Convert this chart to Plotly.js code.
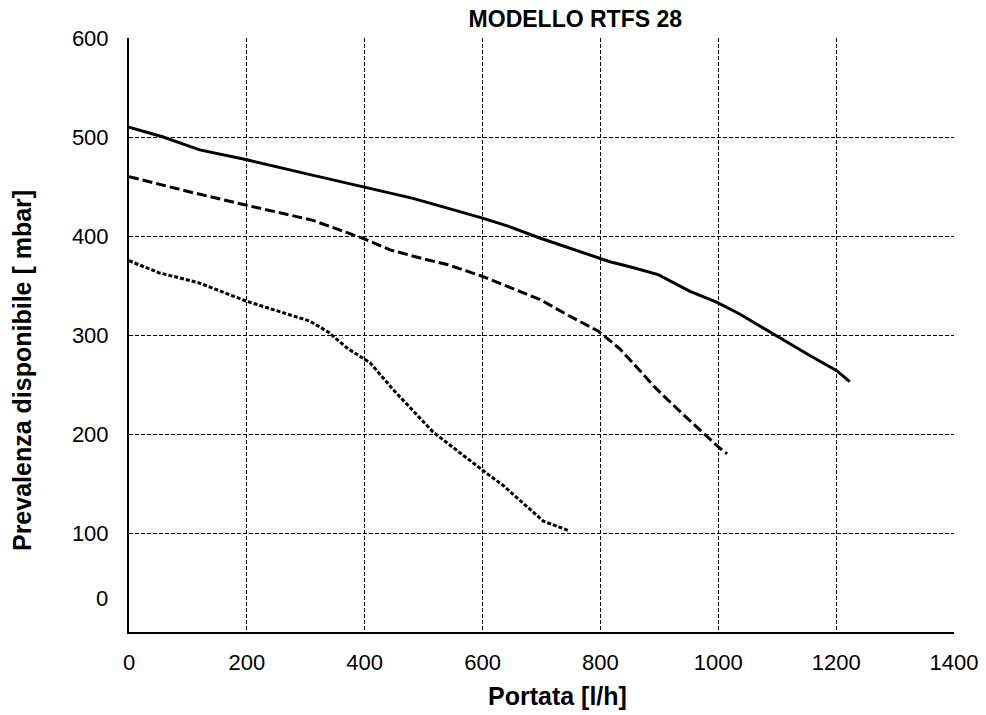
<!DOCTYPE html>
<html>
<head>
<meta charset="utf-8">
<script src="https://cdn.plot.ly/plotly-3.0.1.min.js"></script>
<style>html,body{margin:0;padding:0;background:#fff;}#chart{width:986px;height:715px;}</style>
</head>
<body>
<div id="chart"></div>
<script>
// Curve 1 (solid)
const solidX = [0, 58, 120, 200, 300, 400, 434, 482, 600, 643, 697, 799, 816, 850, 879, 898, 952, 998, 1037, 1099, 1156, 1201, 1223];
const solidY = [510, 500, 487, 477, 463, 449, 444, 438, 418, 410, 398, 377, 374, 369, 364, 361, 344, 333, 321, 299, 279, 264, 253];
// Curve 2 (dashed)
const dashX = [0, 107, 200, 311, 400, 443, 499, 541, 601, 697, 748, 796, 833, 896, 940, 977, 998, 1015];
const dashY = [460, 444, 431, 416, 397, 386, 377, 371, 359, 336, 319, 304, 286, 245, 220, 200, 188, 180];
// Curve 3 (dotted)
const dotX = [0, 50, 117, 200, 307, 338, 372, 409, 448, 516, 601, 635, 703, 748];
const dotY = [375, 363, 353, 334, 314, 303, 286, 272, 245, 202, 163, 148, 112, 102];

const xTicks = [0, 200, 400, 600, 800, 1000, 1200, 1400];
const yTicks = [100, 200, 300, 400, 500, 600];
const yZeroLabel = "0";

const chartTitle = "MODELLO RTFS 28";
const xTitle = "Portata [l/h]";
const yTitle = "Prevalenza disponibile [ mbar]";

const FONT = "Liberation Sans, Arial, Helvetica, sans-serif";

const traces = [
  {x: solidX, y: solidY, mode: 'lines', line: {color: '#000', width: 3, dash: 'solid'}, hoverinfo: 'skip'},
  {x: dashX, y: dashY, mode: 'lines', line: {color: '#000', width: 3, dash: '10px,4px'}, hoverinfo: 'skip'},
  {x: dotX, y: dotY, mode: 'lines', line: {color: '#000', width: 3, dash: '4px,2px'}, hoverinfo: 'skip'}
];

const layout = {
  width: 986, height: 715,
  margin: {l: 129, r: 32, t: 38, b: 83, pad: 0},
  paper_bgcolor: '#fff', plot_bgcolor: '#fff',
  showlegend: false,
  font: {family: FONT, color: '#000', size: 22},
  title: {text: '<b>' + chartTitle + '</b>', font: {family: FONT, size: 23, color: '#000'},
          xref: 'paper', x: 0.541, xanchor: 'center', yref: 'container', y: 0.973, yanchor: 'middle'},
  xaxis: {
    range: [0, 1400], tickvals: xTicks, ticktext: xTicks.map(String),
    showline: true, linecolor: '#000', linewidth: 2, mirror: false,
    showgrid: true, gridcolor: '#000', gridwidth: 1, griddash: '4px,2px',
    zeroline: false, ticks: '', ticklabelstandoff: 10,
    tickfont: {family: FONT, size: 22, color: '#000'}
  },
  yaxis: {
    range: [0, 600], tickvals: yTicks, ticktext: yTicks.map(String),
    showline: true, linecolor: '#000', linewidth: 2, mirror: false,
    showgrid: true, gridcolor: '#000', gridwidth: 1, griddash: '4px,2px',
    zeroline: false, ticks: '', ticklabelstandoff: 14,
    tickfont: {family: FONT, size: 22, color: '#000'}
  },
  annotations: [
    {text: yZeroLabel, xref: 'paper', yref: 'y', x: 0, y: 33.7, xanchor: 'right', yanchor: 'middle',
     xshift: -19, showarrow: false, font: {family: FONT, size: 22, color: '#000'}},
    {text: '<b>' + xTitle + '</b>', xref: 'paper', yref: 'paper', x: 0.519, y: -0.1077,
     xanchor: 'center', yanchor: 'middle', showarrow: false, font: {family: FONT, size: 25, color: '#000'}},
    {text: '<b>' + yTitle + '</b>', xref: 'paper', yref: 'paper', x: -0.1297, y: 0.441, textangle: -90,
     xanchor: 'center', yanchor: 'middle', showarrow: false, font: {family: FONT, size: 25, color: '#000'}}
  ]
};

Plotly.newPlot('chart', traces, layout, {displayModeBar: false, staticPlot: true});
</script>
</body>
</html>
